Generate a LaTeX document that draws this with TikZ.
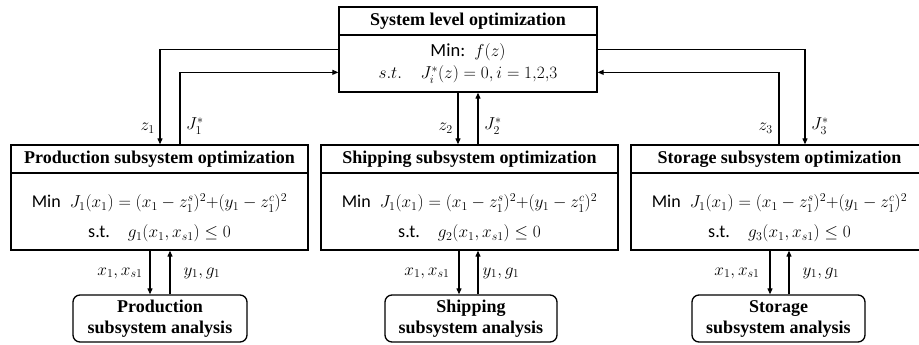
\documentclass[tikz,border=0pt]{standalone}
\usepackage{fontspec}
\setmainfont{Liberation Serif}
\newfontfamily\calib{Carlito}
\usetikzlibrary{arrows.meta}
\begin{document}
\begin{tikzpicture}[x=1pt,y=-1pt,
  box/.style={draw,line width=1.3pt,inner sep=0pt,minimum width=297pt},
  ttl/.style={box,minimum height=28pt,font=\fontsize{18}{20}\selectfont\bfseries},
  bdy/.style={box,minimum height=77pt,align=center,font=\fontsize{18}{20}\selectfont},
  ana/.style={draw,line width=1.3pt,rounded corners=7pt,inner sep=0pt,minimum height=47pt,align=center,font=\fontsize{18}{21}\selectfont\bfseries},
  arr/.style={line width=1.1pt,-{Triangle[length=6pt,width=5pt]}},
  lbl/.style={font=\fontsize{17}{20}\selectfont,inner sep=0pt}]
\useasboundingbox (0,0) rectangle (919,345);
\clip (0,0) rectangle (919,345);
% system
\node[ttl,minimum width=258pt] (systitle) at (468,21) {System level optimization};
\node[box,minimum width=258pt,minimum height=57pt,align=center,font=\fontsize{18.5}{22}\selectfont] (sysbody) at (468,63.5)
  {{\calib Min:}\ \ $f(z)$\\ $s.t.\quad J_i^*(z)=0, i=1{,}2{,}3$};
% subsystems
\foreach \nm/\cx/\ttx/\g in {prod/159.5/Production/1, ship/469.5/Shipping/2, stor/779.5/Storage/3}{
  \node[ttl] (\nm title) at (\cx,159) {\ttx\ subsystem optimization};
  \node[bdy] (\nm body) at (\cx,211.5) {\rule{0pt}{27pt}{\calib Min}\ \ $J_1(x_1)=(x_1-z_1^s)^2{+}(y_1-z_1^c)^2$\\[10pt]{\calib s.t.}\quad $g_\g(x_1,x_{s1})\le 0$\rule[-4.5pt]{0pt}{4.5pt}};
}
\node[ana,minimum width=174pt] (prodana) at (160,318.5) {Production\\subsystem analysis};
\node[ana,minimum width=172pt] (shipana) at (471,318.5) {Shipping\\subsystem analysis};
\node[ana,minimum width=173pt] (storana) at (778.5,318.5) {Storage\\subsystem analysis};
% system <-> subsystem
\draw[arr] ([yshift=-15pt]sysbody.north west) -| ([xshift=0.5pt]prodtitle.north);
\draw[arr] ([xshift=20.5pt]prodtitle.north) |- ([yshift=-38pt]sysbody.north west);
\draw[arr] ([xshift=-10pt]sysbody.south) -- ([xshift=-10pt]sysbody.south |- shiptitle.north);
\draw[arr] ([xshift=10pt]sysbody.south |- shiptitle.north) -- ([xshift=10pt]sysbody.south);
\draw[arr] ([yshift=-15pt]sysbody.north east) -| ([xshift=25.5pt]stortitle.north);
\draw[arr] ([xshift=-0.5pt]stortitle.north) |- ([yshift=-38pt]sysbody.north east);
\node[lbl,anchor=east] (lz1) at (155,128) {$z_1$};
\node[lbl,anchor=west] (lj1) at (186,126) {$J_1^*$};
\node[lbl,anchor=east] (lz2) at (453,128) {$z_2$};
\node[lbl,anchor=west] (lj2) at (484,126) {$J_2^*$};
\node[lbl,anchor=east] (lz3) at (773,128) {$z_3$};
\node[lbl,anchor=west] (lj3) at (811,126) {$J_3^*$};
% subsystem <-> analysis
\draw[arr] ([xshift=-10pt]prodana.north |- prodbody.south) -- ([xshift=-10pt]prodana.north);
\draw[arr] ([xshift=10pt]prodana.north) -- ([xshift=10pt]prodana.north |- prodbody.south);
\draw[arr] ([xshift=-12pt]shipana.north |- shipbody.south) -- ([xshift=-12pt]shipana.north);
\draw[arr] ([xshift=7pt]shipana.north) -- ([xshift=7pt]shipana.north |- shipbody.south);
\draw[arr] ([xshift=-8.5pt]storana.north |- storbody.south) -- ([xshift=-8.5pt]storana.north);
\draw[arr] ([xshift=10.5pt]storana.north) -- ([xshift=10.5pt]storana.north |- storbody.south);
\node[lbl] (px) at (120,273) {$x_1, x_{s1}$};
\node[lbl] (py) at (202,273) {$y_1, g_1$};
\node[lbl] (sx) at (427,273) {$x_1, x_{s1}$};
\node[lbl] (sy) at (501,273) {$y_1, g_1$};
\node[lbl] (tx) at (737,273) {$x_1, x_{s1}$};
\node[lbl] (ty) at (821,273) {$y_1, g_1$};
\end{tikzpicture}
\end{document}
